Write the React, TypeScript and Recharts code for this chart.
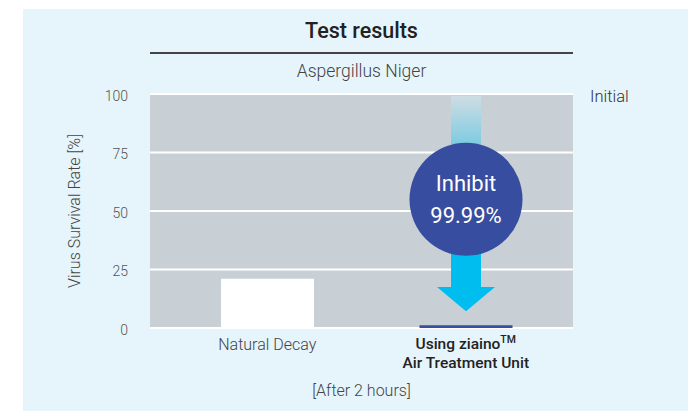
import { Bar, BarChart, CartesianGrid, Cell, Label, XAxis, YAxis } from "recharts"

// values
const categories = ["Natural Decay", "Using ziaino™ Air Treatment Unit"]
const survivalRate = [21, 1.2]
const yTicks = [0, 25, 50, 75, 100]

const data = categories.map((name, i) => ({ name, value: survivalRate[i] }))

const BAR_COLORS = ["#ffffff", "#384ea0"]
const FONT = "Roboto, 'Noto Sans', sans-serif"

const renderTick = ({ x, y, payload, index }: any) => {
    if (index === 0) {
        return (
            <text x={x} y={y + 14} textAnchor="middle" fontFamily={FONT} fontWeight={300} fontSize={16} fill="#444">
                {payload.value}
            </text>
        )
    }
    return (
        <g>
            <text x={x} y={y + 13} textAnchor="middle" fontFamily={FONT} fontWeight={500} fontSize={15.5} fill="#222">
                Using ziaino<tspan dy={-6} fontSize={10.5}>TM</tspan>
            </text>
            <text x={x} y={y + 32} textAnchor="middle" fontFamily={FONT} fontWeight={500} fontSize={15.5} fill="#222">
                Air Treatment Unit
            </text>
        </g>
    )
}

// arrow + "Inhibit" badge, placed from the band of the second bar
const renderInhibit = (props: any) => {
    const { x, y, width, height, index } = props
    if (index !== 1) return <g />
    const cx = x + width / 2
    const cy = y + height * 0.45
    const r = 56.5
    const shaftW = 30
    const shaftEnd = y + height * 0.825
    const headEnd = y + height * 0.928
    return (
        <g>
            <defs>
                <linearGradient id="fade" x1="0" y1="0" x2="0" y2="1">
                    <stop offset="0%" stopColor="#cfdde3" />
                    <stop offset="100%" stopColor="#7ccbe2" />
                </linearGradient>
            </defs>
            <rect x={cx - shaftW / 2} y={y + 2} width={shaftW} height={cy - r - y} fill="url(#fade)" />
            <rect x={cx - shaftW / 2} y={cy + r - 2} width={shaftW} height={shaftEnd - cy - r + 2} fill="#00bdf0" />
            <polygon points={`${cx - 29},${shaftEnd} ${cx + 29},${shaftEnd} ${cx},${headEnd}`} fill="#00bdf0" />
            <circle cx={cx} cy={cy} r={r} fill="#374da0" />
            <text x={cx} y={cy - 8} textAnchor="middle" fontFamily={FONT} fontSize={22} fill="#fff">Inhibit</text>
            <text x={cx} y={cy + 24} textAnchor="middle" fontFamily={FONT} fontSize={22} fill="#fff">99.99%</text>
        </g>
    )
}

const renderYLabel = (props: any) => {
    const { viewBox } = props
    const x = 74
    const y = viewBox.y + viewBox.height / 2
    return (
        <text x={x} y={y} transform={`rotate(-90, ${x}, ${y})`} textAnchor="middle" dominantBaseline="central"
            fontFamily={FONT} fontWeight={300} fontSize={16} fill="#444">
            Virus Survival Rate [%]
        </text>
    )
}

export default function App() {
    return (
        <div style={{ position: "fixed", left: 0, top: 0, width: 699, height: 411, background: "#fff", overflow: "hidden" }}>
            <div style={{ position: "absolute", left: 23, top: 9, width: 665, height: 410, background: "#e6f4fb" }} />
            <div style={{ position: "absolute", left: 150, top: 18, width: 423, textAlign: "center", fontFamily: FONT, fontWeight: 500, fontSize: 21.5, color: "#222" }}>
                Test results
            </div>
            <div style={{ position: "absolute", left: 150, top: 52, width: 423, height: 2, background: "#444" }} />
            <div style={{ position: "absolute", left: 150, top: 61, width: 423, textAlign: "center", fontFamily: FONT, fontWeight: 300, fontSize: 17.5, color: "#444" }}>
                Aspergillus Niger
            </div>
            <div style={{ position: "absolute", left: 590, top: 87, fontFamily: FONT, fontWeight: 300, fontSize: 16.5, color: "#333" }}>
                Initial
            </div>
            <div style={{ position: "absolute", left: 150, top: 381, width: 423, textAlign: "center", fontFamily: FONT, fontWeight: 300, fontSize: 16, color: "#444" }}>
                [After 2 hours]
            </div>
            <div style={{ position: "absolute", left: 0, top: 0 }}>
                <BarChart width={699} height={411} data={data} margin={{ top: 94, right: 126, bottom: 33, left: 70 }}>
                    <CartesianGrid vertical={false} fill="#c9d0d5" stroke="#ffffff" strokeWidth={2} horizontalValues={yTicks} />
                    <XAxis dataKey="name" height={50} axisLine={false} tickLine={false} tick={renderTick} padding={{ left: 18, right: 8 }} interval={0} />
                    <YAxis width={80} domain={[0, 100]} ticks={yTicks} axisLine={false} tickLine={false} tickSize={10} tickMargin={12}
                        tick={{ fontFamily: FONT, fontWeight: 300, fontSize: 14, fill: "#555", dy: 2 }}>
                        <Label content={renderYLabel} />
                    </YAxis>
                    <Bar dataKey="value" barSize={93} isAnimationActive={false} background={renderInhibit}>
                        {data.map((entry, i) => (
                            <Cell key={`cell-${i}`} fill={BAR_COLORS[i]} />
                        ))}
                    </Bar>
                </BarChart>
            </div>
        </div>
    )
}
